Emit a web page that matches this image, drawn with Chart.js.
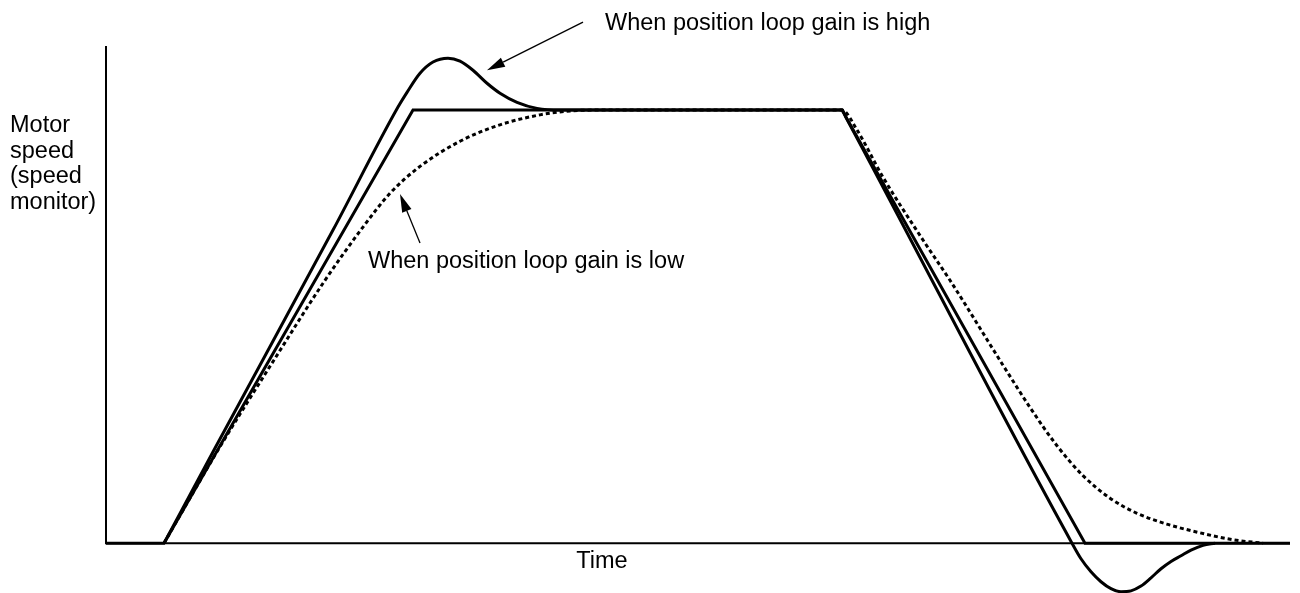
<!DOCTYPE html>
<html>
<head>
<meta charset="utf-8">
<title>Motor speed response</title>
<script src="https://cdn.jsdelivr.net/npm/chart.js@4/dist/chart.umd.min.js"></script>
<style>
  html, body { margin: 0; padding: 0; background: #fff; }
  canvas { display: block; }
</style>
</head>
<body>
<canvas id="chart" width="1300" height="593"></canvas>
<script>
// Speed command (trapezoid): time vs speed (% of rated speed)
const commandTime  = [0, 11.6, 61.4, 147.2, 195.8, 236.8];
const commandSpeed = [0, 0, 100, 100, 0, 0];

// Response with high position loop gain (overshoot / undershoot)
const highGainTime  = [11.6, 21.6, 45.4, 58.4, 60.2, 62.8, 65.4, 68.4, 70.8, 73.4, 76.2, 78.8, 82.2, 86.2, 90.8,
                       147.2, 148.0, 193.2, 195.0, 197.0, 199.0, 201.0, 203.0, 205.0, 207.0, 209.0, 211.0, 213.0,
                       215.0, 217.0, 219.4, 221.8];
const highGainSpeed = [0, 21.5, 72.3, 100.7, 104.1, 108.5, 111.1, 112.0, 111.3, 109.2, 106.2, 103.9, 101.8, 100.4, 100,
                       100, 98.3, 0, -3.6, -6.6, -8.9, -10.5, -11.2, -11.0, -9.9, -8.0, -5.9, -4.2,
                       -2.9, -1.6, -0.5, 0];

// Response with low position loop gain (lagging)
const lowGainTime  = [11.6, 22.4, 33.6, 43.8, 51.4, 56.8, 62.8, 70.8, 78.8, 86.8, 92.8, 98.0,
                      147.2, 150.2, 155.4, 163.4, 168.8, 179.4, 185.0, 190.2, 195.4, 200.8, 206.2, 212.2, 218.8,
                      225.4, 231.4];
const lowGainSpeed = [0, 21.5, 42.3, 60.7, 73.0, 80.8, 87.0, 92.8, 96.6, 98.9, 99.8, 100,
                      100, 95.4, 84.5, 70.0, 60.7, 41.1, 31.0, 22.5, 15.6, 10.4, 6.9, 4.4, 2.4,
                      0.8, 0];

// Text
const axisTitleY = ['Motor', 'speed', '(speed', 'monitor)'];
const axisTitleX = 'Time';
const noteHigh = 'When position loop gain is high';
const noteLow  = 'When position loop gain is low';

const TIME_MAX = 236.8, SPEED_MIN = -11.5, SPEED_MAX = 114.8;
const FONT = '23.5px "Liberation Sans", Arial, Helvetica, sans-serif';
const INK = '#000';

const toPoints = (xs, ys) => xs.map((x, i) => ({ x, y: ys[i] }));

function arrow(ctx, x1, y1, x2, y2, headLen, headW) {
  const dx = x2 - x1, dy = y2 - y1, len = Math.hypot(dx, dy);
  const ux = dx / len, uy = dy / len;
  const bx = x2 - ux * headLen, by = y2 - uy * headLen;
  ctx.beginPath();
  ctx.moveTo(x1, y1);
  ctx.lineTo(bx, by);
  ctx.lineWidth = 1.3;
  ctx.stroke();
  ctx.beginPath();
  ctx.moveTo(x2, y2);
  ctx.lineTo(bx - uy * headW / 2, by + ux * headW / 2);
  ctx.lineTo(bx + uy * headW / 2, by - ux * headW / 2);
  ctx.closePath();
  ctx.fill();
}

// Axes, axis titles and call-out notes
const decorations = {
  id: 'decorations',
  beforeDatasetsDraw(chart) {
    const { ctx, scales: { x, y } } = chart;
    const x0 = x.getPixelForValue(0), y0 = y.getPixelForValue(0);
    ctx.save();
    ctx.strokeStyle = INK;
    ctx.lineWidth = 2;
    ctx.beginPath();
    ctx.moveTo(x0, y.getPixelForValue(SPEED_MAX));
    ctx.lineTo(x0, y0);
    ctx.lineTo(x.getPixelForValue(TIME_MAX), y0);
    ctx.stroke();
    ctx.restore();
  },
  afterDraw(chart) {
    const { ctx, scales: { x, y } } = chart;
    const px = v => x.getPixelForValue(v), py = v => y.getPixelForValue(v);
    ctx.save();
    ctx.fillStyle = INK;
    ctx.strokeStyle = INK;
    ctx.font = FONT;
    ctx.textBaseline = 'alphabetic';

    // y axis title, left of the axis
    ctx.textAlign = 'left';
    axisTitleY.forEach((line, i) => ctx.fillText(line, 10, 132 + i * 25.5));

    // x axis title, under the axis
    ctx.textAlign = 'center';
    ctx.fillText(axisTitleX, px(99.2), py(0) + 25);

    // notes
    ctx.textAlign = 'left';
    ctx.fillText(noteHigh, px(99.8), py(118.4));
    ctx.fillText(noteLow, px(52.4), py(63.5));

    arrow(ctx, px(95.4), py(120.3), px(76.2), py(109.2), 18, 10);
    arrow(ctx, px(62.8), py(69.3), px(58.8), py(80.6), 18, 10);
    ctx.restore();
  }
};

new Chart(document.getElementById('chart'), {
  type: 'line',
  data: {
    datasets: [
      {
        label: 'Command',
        data: toPoints(commandTime, commandSpeed),
        borderColor: INK, borderWidth: 3, tension: 0, clip: false
      },
      {
        label: 'High gain',
        data: toPoints(highGainTime, highGainSpeed),
        borderColor: INK, borderWidth: 3, cubicInterpolationMode: 'monotone', clip: false
      },
      {
        label: 'Low gain',
        data: toPoints(lowGainTime, lowGainSpeed),
        borderColor: INK, borderWidth: 3, borderDash: [4, 3], borderCapStyle: 'butt',
        cubicInterpolationMode: 'monotone', clip: false
      }
    ]
  },
  options: {
    responsive: false,
    devicePixelRatio: 1,
    animation: false,
    layout: { padding: { left: 106, right: 10, top: 46, bottom: 0 } },
    elements: { point: { radius: 0 } },
    scales: {
      x: { type: 'linear', min: 0, max: TIME_MAX, display: false },
      y: { type: 'linear', min: SPEED_MIN, max: SPEED_MAX, display: false }
    },
    plugins: { legend: { display: false }, tooltip: { enabled: false } }
  },
  plugins: [decorations]
});
</script>
</body>
</html>
